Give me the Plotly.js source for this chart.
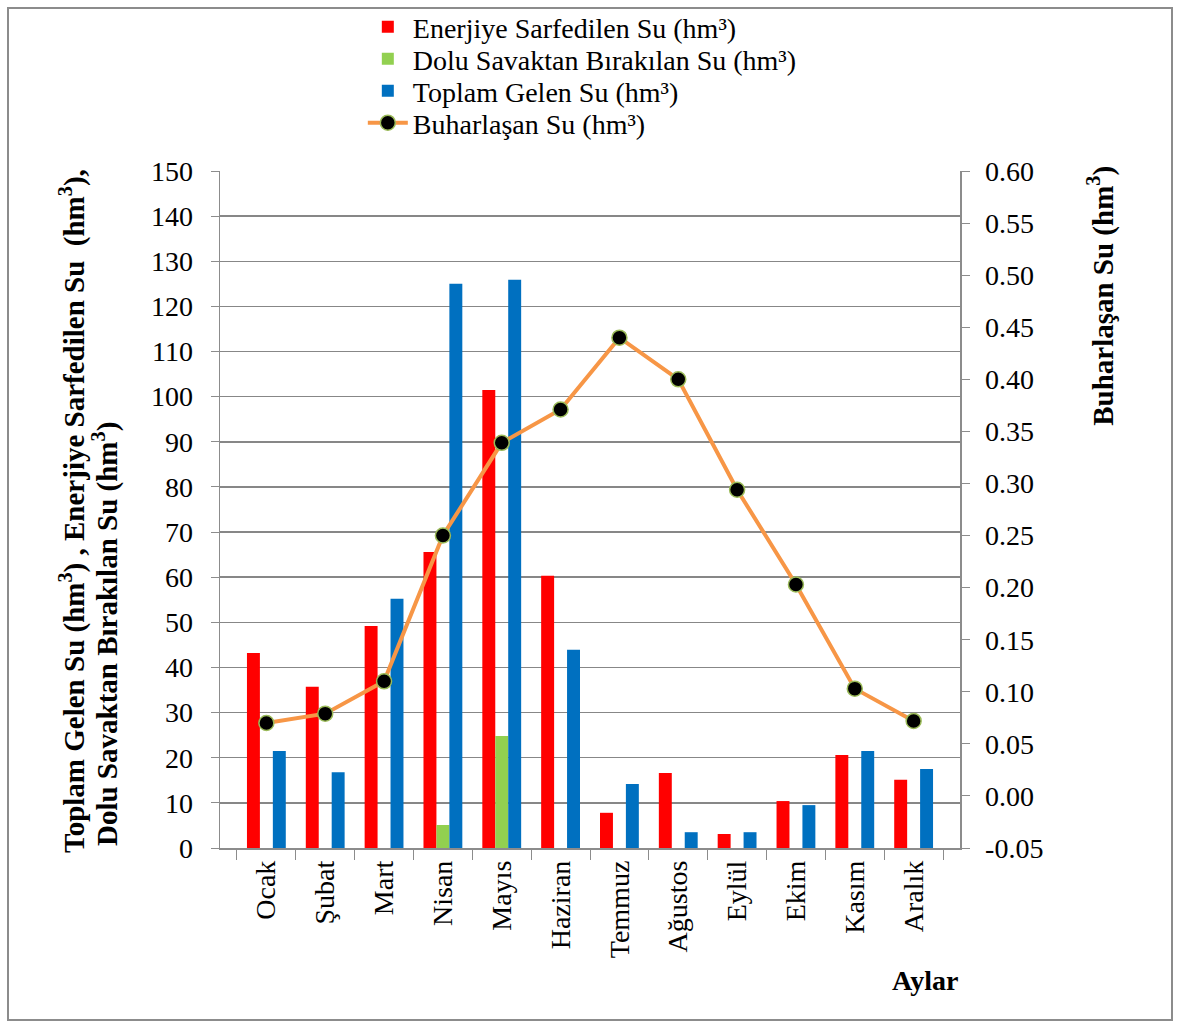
<!DOCTYPE html>
<html>
<head>
<meta charset="utf-8">
<script src="https://cdn.plot.ly/plotly-3.0.1.min.js"></script>
<style>
  html, body { margin: 0; padding: 0; background: #fff; }
  #chart { width: 1179px; height: 1025px; position: absolute; left: 0; top: 0; }
  #frame { position: absolute; left: 7px; top: 7px; width: 1162px; height: 1010px; border: 2px solid #8c8c8c; pointer-events: none; }
</style>
</head>
<body>
<div id="chart"></div>
<div id="frame"></div>
<script>
const months = ["Ocak", "Şubat", "Mart", "Nisan", "Mayıs", "Haziran", "Temmuz", "Ağustos", "Eylül", "Ekim", "Kasım", "Aralık"];
const enerjiye = [43.2, 35.7, 49.2, 65.6, 101.5, 60.3, 7.8, 16.6, 3.1, 10.4, 20.6, 15.1];
const dolu = [0, 0, 0, 5.1, 24.8, 0, 0, 0, 0, 0, 0, 0];
const toplam = [21.5, 16.8, 55.2, 125.0, 125.9, 43.9, 14.2, 3.5, 3.5, 9.5, 21.5, 17.5];
const buhar = [0.070, 0.079, 0.110, 0.250, 0.339, 0.371, 0.440, 0.400, 0.294, 0.203, 0.103, 0.072];
const rightTickVals = [-0.05, 0.00, 0.05, 0.10, 0.15, 0.20, 0.25, 0.30, 0.35, 0.40, 0.45, 0.50, 0.55, 0.60];
const rightTickText = ["-0.05", "0.00", "0.05", "0.10", "0.15", "0.20", "0.25", "0.30", "0.35", "0.40", "0.45", "0.50", "0.55", "0.60"];

const FONT = "Liberation Serif, Times New Roman, serif";

const traces = [
  { type: "bar", name: "Enerjiye Sarfedilen Su (hm³)", x: months, y: enerjiye, marker: { color: "#FF0000" }, legend: "legend" },
  { type: "bar", name: "Dolu Savaktan Bırakılan Su (hm³)", x: months, y: dolu, marker: { color: "#92D050" }, legend: "legend2" },
  { type: "bar", name: "Toplam Gelen Su (hm³)", x: months, y: toplam, marker: { color: "#0070C0" }, legend: "legend3" },
  { type: "scatter", mode: "lines+markers", name: "Buharlaşan Su (hm³)", x: months, y: buhar, yaxis: "y2", legend: "legend4",
    line: { color: "#F79646", width: 4 },
    marker: { color: "#000000", size: 15, line: { color: "#9BBB59", width: 1.5 } } }
];

function leg(py) {
  return { x: 0.193, y: 1 - py / 1025, xref: "paper", yref: "container", xanchor: "left", yanchor: "middle",
           font: { family: FONT, size: 28, color: "#000" }, itemwidth: 40, bgcolor: "rgba(0,0,0,0)" };
}

const layout = {
  width: 1179, height: 1025,
  margin: { l: 220, r: 219, t: 171, b: 177, autoexpand: false },
  paper_bgcolor: "#ffffff", plot_bgcolor: "#ffffff",
  font: { family: FONT, size: 28, color: "#000" },
  barmode: "group", bargap: 0.34, bargroupgap: 0,
  showlegend: true,
  legend: leg(27), legend2: leg(59), legend3: leg(91), legend4: leg(123),
  xaxis: {
    type: "category", tickson: "boundaries", ticks: "outside", ticklen: 10, tickcolor: "#8c8c8c",
    showline: true, linecolor: "#8c8c8c", linewidth: 1.5, tickangle: -90,
    tickfont: { family: FONT, size: 28 }, showgrid: false, automargin: false
  },
  yaxis: {
    range: [0, 150], dtick: 10, tick0: 0, ticks: "outside", ticklen: 8, tickcolor: "#8c8c8c",
    ticklabelstandoff: 12,
    showline: true, linecolor: "#8c8c8c", linewidth: 1.5, gridcolor: "#878787", gridwidth: 1.5,
    zeroline: false, tickfont: { family: FONT, size: 28 }, automargin: false
  },
  yaxis2: {
    overlaying: "y", side: "right", range: [-0.05, 0.60], tickmode: "array",
    tickvals: rightTickVals, ticktext: rightTickText,
    ticks: "outside", ticklen: 8, tickcolor: "#8c8c8c", ticklabelstandoff: 10,
    showline: true, linecolor: "#8c8c8c", linewidth: 1.5,
    showgrid: false, zeroline: false, tickfont: { family: FONT, size: 28 }, automargin: false
  },
  annotations: [
    { text: "<b>Toplam Gelen Su (hm<sup>3</sup>) , Enerjiye Sarfedilen Su  (hm<sup>3</sup>),</b>",
      xref: "paper", yref: "paper", x: -0.1986, y: -0.0103, xanchor: "center", yanchor: "bottom",
      textangle: -90, showarrow: false, font: { family: FONT, size: 29 } },
    { text: "<b>Dolu Savaktan Bırakılan Su (hm<sup>3</sup>)</b>",
      xref: "paper", yref: "paper", x: -0.1554, y: 0, xanchor: "center", yanchor: "bottom",
      textangle: -90, showarrow: false, font: { family: FONT, size: 29 } },
    { text: "<b>Buharlaşan Su (hm<sup>3</sup>)</b>", xref: "paper", yref: "paper", x: 1.19, y: 1.01,
      xanchor: "center", yanchor: "top", textangle: -90, showarrow: false, font: { family: FONT, size: 29 } },
    { text: "<b>Aylar</b>", xref: "paper", yref: "paper", x: 1.0, y: -0.17,
      xanchor: "right", yanchor: "top", showarrow: false, font: { family: FONT, size: 28 } }
  ]
};

Plotly.newPlot("chart", traces, layout, { displayModeBar: false, staticPlot: true });
</script>
</body>
</html>
